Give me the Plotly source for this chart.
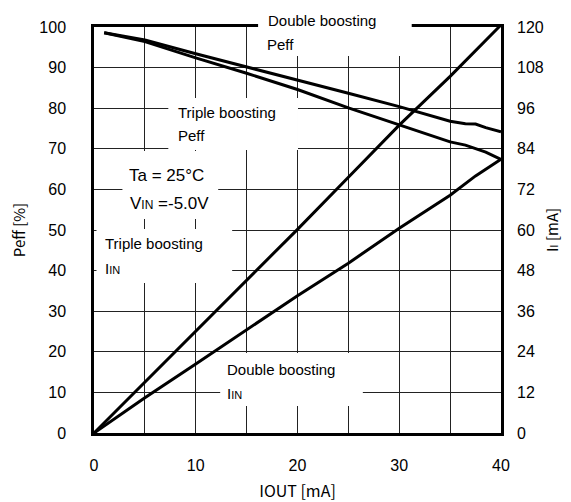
import plotly.graph_objects as go

# ---------------- data ----------------
iout_peff = [1, 5, 10, 15, 20, 25, 30, 35, 36.5, 37.5, 38.5, 40]
peff_double = [98.6, 96.8, 93.4, 90.2, 87.0, 83.7, 80.4, 76.8, 76.2, 76.1, 75.2, 74.2]
peff_triple = [98.6, 96.4, 92.4, 88.6, 84.6, 80.1, 75.9, 71.7, 70.9, 70.1, 69.2, 67.4]

iout_iin = [0, 5, 10, 15, 20, 25, 30, 35, 37.5, 40]
iin_triple = [0, 15.0, 30.2, 45.3, 60.2, 75.6, 91.0, 105.4, 113.0, 120.6]
iin_double = [0, 10.4, 20.4, 30.5, 40.6, 50.2, 60.5, 70.3, 76.0, 80.9]

x_tickvals = [0, 5, 10, 15, 20, 25, 30, 35, 40]
x_ticktext = ["0", "", "10", "", "20", "", "30", "", "40"]
y_left_ticks = [0, 10, 20, 30, 40, 50, 60, 70, 80, 90, 100]
y_right_ticks = [0, 12, 24, 36, 48, 60, 72, 84, 96, 108, 120]

# ---------------- layout geometry ----------------
# the page body has an 8px margin, so the figure is drawn 8px in from the corner
OFF = 8
W, H = 571 - OFF, 502 - OFF
L, R, T, B = 93.5, 501.5, 27, 433  # plot area in page pixels


def px(x):
    return (x - L) / (R - L)


def py(y):
    return (B - y) / (B - T)


FONT = "Liberation Sans, Arial, sans-serif"
TITLE_FONT = "Noto Sans CJK JP, Liberation Sans, sans-serif"

fig = go.Figure()
line_style = dict(color="black", width=3)
fig.add_trace(go.Scatter(x=iout_peff, y=peff_double, mode="lines", line=line_style,
                         name="Double boosting Peff", yaxis="y"))
fig.add_trace(go.Scatter(x=iout_peff, y=peff_triple, mode="lines", line=line_style,
                         name="Triple boosting Peff", yaxis="y"))
fig.add_trace(go.Scatter(x=iout_iin, y=iin_triple, mode="lines", line=line_style,
                         name="Triple boosting IIN", yaxis="y2"))
fig.add_trace(go.Scatter(x=iout_iin, y=iin_double, mode="lines", line=line_style,
                         name="Double boosting IIN", yaxis="y2"))

# white label backgrounds (hide gridlines behind texts)
boxes = [
    (258, 10, 412, 56),    # Double boosting Peff
    (168, 98, 298, 150),   # Triple boosting Peff
    (122, 151, 218, 219),  # Ta / VIN
    (96, 229, 232, 283),   # Triple boosting IIN
    (220, 353, 363, 406),  # Double boosting IIN
]
shapes = []
for (x0, y0, x1, y1) in boxes:
    shapes.append(dict(type="rect", xref="paper", yref="paper",
                       x0=px(x0), x1=px(x1), y0=py(y1), y1=py(y0),
                       fillcolor="white", line=dict(width=0), layer="above"))

annotations = []


def label(text, x, y, size=15):
    annotations.append(dict(text=text, xref="paper", yref="paper", x=px(x), y=py(y),
                            xanchor="left", yanchor="middle", showarrow=False,
                            font=dict(family=FONT, size=size, color="black")))


sub = "<span style='font-size:11px'>IN</span>"
label("Double boosting", 266, 21)
label("Peff", 265, 45)
label("Triple boosting", 176, 112)
label("Peff", 176, 136)
label("Ta = 25°C", 127, 175, size=17)
label("V<span style='font-size:12px'>IN</span> =-5.0V", 128, 203, size=17)
label("Triple boosting", 103, 243)
label("I" + sub, 103, 268)
label("Double boosting", 225, 369)
label("I" + sub, 225, 393)

fig.update_layout(
    width=W, height=H,
    margin=dict(l=L - OFF, r=571 - R, t=T - OFF, b=502 - B, pad=0),
    paper_bgcolor="white", plot_bgcolor="white",
    showlegend=False,
    shapes=shapes,
    annotations=annotations,
    xaxis=dict(range=[0, 40], tickvals=x_tickvals, ticktext=x_ticktext,
               showgrid=True, gridcolor="#222222", gridwidth=1,
               showline=True, linecolor="black", linewidth=2.5, mirror=True,
               ticks="", zeroline=False, ticklabelstandoff=16, automargin=False,
               tickfont=dict(family=FONT, size=16, color="black"),
               title=dict(text="IOUT [mA]", standoff=14,
                          font=dict(family=TITLE_FONT, size=16, color="black"))),
    yaxis=dict(range=[0, 100], tickvals=y_left_ticks,
               showgrid=True, gridcolor="#222222", gridwidth=1,
               showline=True, linecolor="black", linewidth=2.5, mirror=True,
               ticks="", zeroline=False, ticklabelstandoff=22, automargin=False,
               tickfont=dict(family=FONT, size=16, color="black"),
               title=dict(text="Peff [%]", standoff=22,
                          font=dict(family=TITLE_FONT, size=15, color="black"))),
    yaxis2=dict(range=[0, 120], tickvals=y_right_ticks, overlaying="y", side="right",
                showgrid=False, showline=False, ticks="", zeroline=False,
                ticklabelstandoff=15, automargin=False,
                tickfont=dict(family=FONT, size=16, color="black"),
                title=dict(text="I<span style='font-size:11px'>I</span> [mA]", standoff=4,
                           font=dict(family=TITLE_FONT, size=15, color="black"))),
)

fig.write_html("out.html")
